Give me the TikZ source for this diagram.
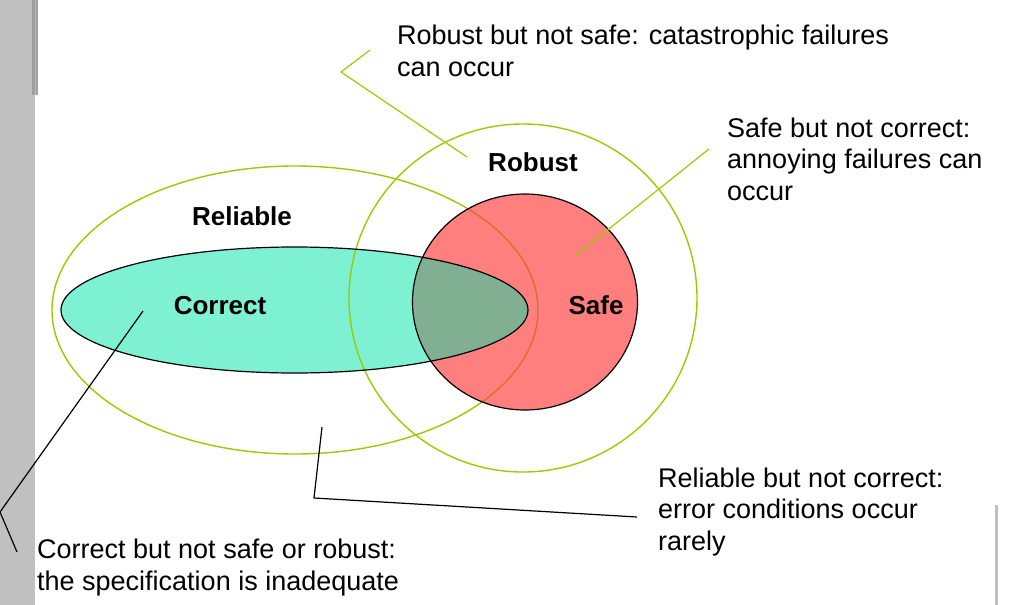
\documentclass[tikz,border=0pt]{standalone}
\usepackage{fontspec}
\setmainfont{Liberation Sans}
\definecolor{ygreen}{RGB}{153,204,0}
\definecolor{aqua}{RGB}{125,241,210}
\definecolor{salmon}{RGB}{255,127,127}
\definecolor{mixc}{RGB}{128,176,145}
\definecolor{orline}{RGB}{210,115,45}
\definecolor{barc}{RGB}{192,192,192}
\begin{document}
\begin{tikzpicture}[x=1pt,y=-1pt,
  txt/.style={inner sep=0pt, anchor=base west, align=left, font=\fontsize{27}{31.5}\selectfont},
  lbl/.style={inner sep=0pt, anchor=base, font=\fontsize{26}{30}\selectfont\bfseries},
  gline/.style={draw=ygreen, line width=1.4pt},
  bline/.style={draw=black, line width=1.2pt}]
\useasboundingbox (0,0) rectangle (1034,605);
% side bars
\fill[barc] (0,0) rectangle (35,605);
\fill[gray!75] (32,0) rectangle (38,95);
\fill[gray!55] (34.5,0) rectangle (35.5,95);
\fill[barc] (995,505) rectangle (998,605);
% Reliable ellipse outline
\draw[gline] (295,310) ellipse [x radius=243, y radius=144];
% Correct fill
\fill[aqua] (294.5,310) ellipse [x radius=233.5, y radius=63];
% Safe fill
\fill[salmon] (525,302) ellipse [x radius=112.5, y radius=108];
% intersection
\begin{scope}
  \clip (294.5,310) ellipse [x radius=233.5, y radius=63];
  \fill[mixc] (525,302) ellipse [x radius=112.5, y radius=108];
\end{scope}
% Robust circle
\draw[gline] (523,298) circle [radius=174];
% Reliable outline inside safe
\begin{scope}
  \clip (525,302) ellipse [x radius=112.5, y radius=108];
  \draw[draw=orline, line width=1.4pt] (295,310) ellipse [x radius=243, y radius=144];
\end{scope}
% outlines
\draw[bline] (294.5,310) ellipse [x radius=233.5, y radius=63];
\draw[bline] (525,302) ellipse [x radius=112.5, y radius=108];
% labels
\node[lbl] (reliable) at (242,225) {Reliable};
\node[lbl] (robust) at (533,171) {Robust};
\node[lbl] (correct) at (220,314) {Correct};
\node[lbl] (safe) at (596,314) {Safe};
% texts (anchor = baseline of last line)
\node[txt] (t1) at (397,76) {Robust but not safe: catastrophic failures\\can occur};
\node[txt] (t2) at (727,200) {Safe but not correct:\\annoying failures can\\occur};
\node[txt] (t3) at (658,550) {Reliable but not correct:\\error conditions occur\\rarely};
\node[txt] (t4) at (37,590) {Correct but not safe or robust:\\the specification is inadequate};
% connectors
\coordinate (a1) at (370,50);
\coordinate (a2) at (341,72);
\coordinate (a3) at (467,157);
\draw[gline, line width=1.2pt] (a1) -- (a2) -- (a3);
\coordinate (b1) at (709,149);
\coordinate (b2) at (575,256);
\draw[gline, line width=1.2pt] (b1) -- (b2);
\coordinate (c1) at (143,311);
\coordinate (c2) at (0,512);
\coordinate (c3) at (17,552);
\draw[bline] (c1) -- (c2) -- (c3);
\coordinate (d1) at (322,427);
\coordinate (d2) at (314,498);
\coordinate (d3) at (637,517);
\draw[bline] (d1) -- (d2) -- (d3);
\end{tikzpicture}
\end{document}
